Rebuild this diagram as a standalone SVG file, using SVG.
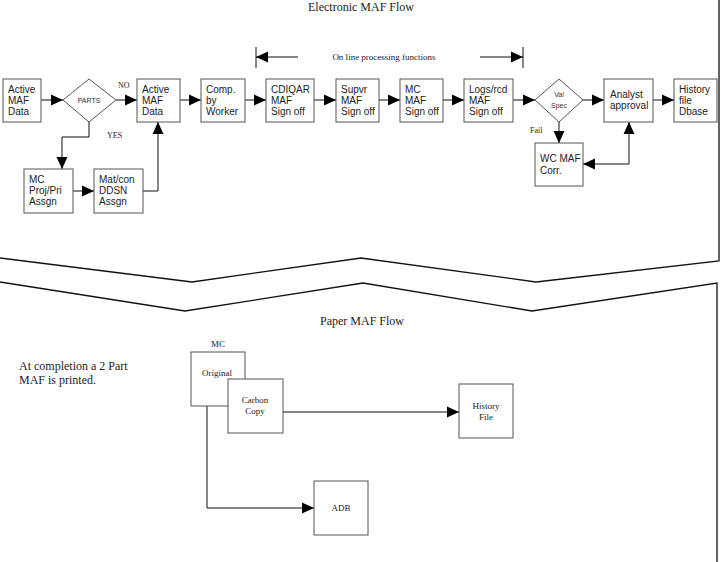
<svg xmlns="http://www.w3.org/2000/svg" width="723" height="562" viewBox="0 0 723 562">
<style>
.box{fill:#fff;stroke:#555;stroke-width:1}
.ln{fill:none;stroke:#111;stroke-width:1}
.fr{fill:none;stroke:#111;stroke-width:1.3}
.ns{font-family:"Liberation Sans",Arial,sans-serif;font-size:10px;fill:#222}
.ds{font-family:"Liberation Sans",Arial,sans-serif;font-size:7px;fill:#333}
.ts{font-family:"Liberation Serif","Times New Roman",serif;fill:#222}
</style>
<defs>
<marker id="ah" markerUnits="userSpaceOnUse" markerWidth="12" markerHeight="12" refX="11" refY="5" orient="auto-start-reverse" viewBox="0 0 11 10">
<path d="M0,0 L11,5 L0,10 z" fill="#000"/>
</marker>
</defs>
<rect width="723" height="562" fill="#fff"/>
<g id="frame">
<polyline class="fr" points="0,258 192,282 361,258 536,282 719,261 719,0"/>
<polyline class="fr" points="0,282 185,311 363,283 532,311 717,283 717,562"/>
</g>
<g id="titles">
<text class="ts" x="361" y="11" font-size="12" text-anchor="middle">Electronic MAF Flow</text>
<text class="ts" x="362" y="325" font-size="12" text-anchor="middle">Paper MAF Flow</text>
<text class="ts" x="384" y="60" font-size="9" text-anchor="middle">On line processing functions</text>
<text class="ts" x="19" y="370" font-size="12">At completion a 2 Part</text>
<text class="ts" x="19" y="384" font-size="12">MAF is printed.</text>
</g>
<g id="connectors">
<line class="ln" x1="41" y1="100" x2="63" y2="100" marker-end="url(#ah)"/>
<line class="ln" x1="116" y1="100" x2="137" y2="100" marker-end="url(#ah)"/>
<line class="ln" x1="180" y1="100" x2="201" y2="100" marker-end="url(#ah)"/>
<line class="ln" x1="245" y1="100" x2="266" y2="100" marker-end="url(#ah)"/>
<line class="ln" x1="314" y1="100" x2="336" y2="100" marker-end="url(#ah)"/>
<line class="ln" x1="379" y1="100" x2="400" y2="100" marker-end="url(#ah)"/>
<line class="ln" x1="443" y1="100" x2="464" y2="100" marker-end="url(#ah)"/>
<line class="ln" x1="513" y1="100" x2="535" y2="100" marker-end="url(#ah)"/>
<line class="ln" x1="583" y1="100" x2="604" y2="100" marker-end="url(#ah)"/>
<line class="ln" x1="653" y1="100" x2="674" y2="100" marker-end="url(#ah)"/>
<polyline class="ln" points="89,122 89,137 62,137 62,169" marker-end="url(#ah)"/>
<line class="ln" x1="73" y1="191" x2="94" y2="191" marker-end="url(#ah)"/>
<polyline class="ln" points="143,191 158,191 158,122" marker-end="url(#ah)"/>
<line class="ln" x1="559" y1="122" x2="559" y2="143" marker-end="url(#ah)"/>
<polyline class="ln" points="583,164 629,164 629,122" marker-start="url(#ah)" marker-end="url(#ah)"/>
<line class="ln" x1="298" y1="57" x2="256" y2="57" marker-end="url(#ah)"/>
<line class="ln" x1="256" y1="47" x2="256" y2="68"/>
<line class="ln" x1="480" y1="57" x2="523" y2="57" marker-end="url(#ah)"/>
<line class="ln" x1="523" y1="47" x2="523" y2="68"/>
<line class="ln" x1="283" y1="412" x2="459" y2="412" marker-end="url(#ah)"/>
<polyline class="ln" points="207,406 207,508 314,508" marker-end="url(#ah)"/>
<text class="ts" x="118" y="88" font-size="8">NO</text>
<text class="ts" x="107" y="138" font-size="8">YES</text>
<text class="ts" x="530" y="133" font-size="8">Fail</text>
</g>
<g id="n1"><rect class="box" x="3" y="79" width="38" height="43"/><text class="ns" x="8" y="93">Active</text><text class="ns" x="8" y="104">MAF</text><text class="ns" x="8" y="115">Data</text></g>
<g id="n2"><polygon class="box" points="89,79 116,100 89,122 63,100"/><text class="ds" x="89" y="103" text-anchor="middle">PARTS</text></g>
<g id="n3"><rect class="box" x="137" y="79" width="43" height="43"/><text class="ns" x="142" y="93">Active</text><text class="ns" x="142" y="104">MAF</text><text class="ns" x="142" y="115">Data</text></g>
<g id="n4"><rect class="box" x="201" y="79" width="44" height="43"/><text class="ns" x="206" y="93">Comp.</text><text class="ns" x="206" y="104">by</text><text class="ns" x="206" y="115">Worker</text></g>
<g id="n5"><rect class="box" x="266" y="79" width="48" height="43"/><text class="ns" x="271" y="93">CDIQAR</text><text class="ns" x="271" y="104">MAF</text><text class="ns" x="271" y="115">Sign off</text></g>
<g id="n6"><rect class="box" x="336" y="79" width="43" height="43"/><text class="ns" x="341" y="93">Supvr</text><text class="ns" x="341" y="104">MAF</text><text class="ns" x="341" y="115">Sign off</text></g>
<g id="n7"><rect class="box" x="400" y="79" width="43" height="43"/><text class="ns" x="405" y="93">MC</text><text class="ns" x="405" y="104">MAF</text><text class="ns" x="405" y="115">Sign off</text></g>
<g id="n8"><rect class="box" x="464" y="79" width="49" height="43"/><text class="ns" x="469" y="93">Logs/rcd</text><text class="ns" x="469" y="104">MAF</text><text class="ns" x="469" y="115">Sign off</text></g>
<g id="n9"><polygon class="box" points="559,79 583,100 559,122 535,100"/><text class="ds" x="559" y="97" text-anchor="middle">Val</text><text class="ds" x="559" y="108" text-anchor="middle">Spec</text></g>
<g id="n10"><rect class="box" x="604" y="79" width="49" height="43"/><text class="ns" x="610" y="98">Analyst</text><text class="ns" x="610" y="109">approval</text></g>
<g id="n11"><rect class="box" x="674" y="79" width="43" height="43"/><text class="ns" x="679" y="93">History</text><text class="ns" x="679" y="104">file</text><text class="ns" x="679" y="115">Dbase</text></g>
<g id="n12"><rect class="box" x="535" y="143" width="48" height="43"/><text class="ns" x="540" y="162">WC MAF</text><text class="ns" x="540" y="174">Corr.</text></g>
<g id="n13"><rect class="box" x="24" y="169" width="49" height="44"/><text class="ns" x="29" y="183">MC</text><text class="ns" x="29" y="194">Proj/Pri</text><text class="ns" x="29" y="205">Assgn</text></g>
<g id="n14"><rect class="box" x="94" y="169" width="49" height="44"/><text class="ns" x="99" y="183">Mat/con</text><text class="ns" x="99" y="194">DDSN</text><text class="ns" x="99" y="205">Assgn</text></g>
<g id="p1"><text class="ts" x="218" y="347" font-size="9" text-anchor="middle">MC</text><rect class="box" x="191" y="352" width="54" height="54"/><text class="ts" x="217" y="376" font-size="9" text-anchor="middle">Original</text></g>
<g id="p2"><rect class="box" x="228" y="379" width="55" height="54"/><text class="ts" x="255" y="403" font-size="9" text-anchor="middle">Carbon</text><text class="ts" x="255" y="414" font-size="9" text-anchor="middle">Copy</text></g>
<g id="p3"><rect class="box" x="459" y="384" width="54" height="54"/><text class="ts" x="486" y="409" font-size="9" text-anchor="middle">History</text><text class="ts" x="486" y="420" font-size="9" text-anchor="middle">File</text></g>
<g id="p4"><rect class="box" x="314" y="481" width="54" height="54"/><text class="ts" x="341" y="511" font-size="9" text-anchor="middle">ADB</text></g>
</svg>
